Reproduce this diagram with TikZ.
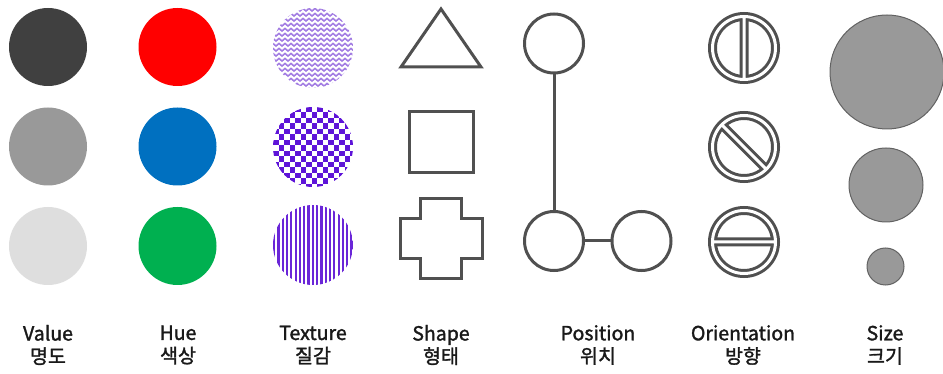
\documentclass[tikz,border=0pt]{standalone}
\usepackage{fontspec}
\setmainfont{Noto Sans CJK KR}[FakeBold=1.6]
\usetikzlibrary{positioning}

\definecolor{linegray}{HTML}{505050}
\definecolor{valdark}{HTML}{404040}
\definecolor{valmid}{HTML}{999999}
\definecolor{vallight}{HTML}{DEDEDE}
\definecolor{huered}{HTML}{FF0000}
\definecolor{hueblue}{HTML}{0070C0}
\definecolor{huegreen}{HTML}{00B050}
\definecolor{zigcol}{HTML}{A27CE2}
\definecolor{checkcol}{HTML}{5E14D8}
\definecolor{stripecol}{HTML}{6A26D8}
\definecolor{sizefill}{HTML}{999999}
\definecolor{sizeline}{HTML}{626262}

\tikzset{
dot/.style={circle,inner sep=0pt,minimum size=78pt},
ringnode/.style={circle,draw=linegray,line width=3pt,inner sep=0pt,minimum size=59pt},
shapeline/.style={draw=linegray,line width=3pt},
sizedot/.style={circle,fill=sizefill,draw=sizeline,line width=1pt,inner sep=0pt},
captext/.style={align=center,text=black!90,font=\fontsize{19.5}{23}\selectfont}
}

\newcommand{\orimark}[3]{%
\begin{scope}[shift={(#1,#2)},rotate=#3]
\draw[line width=9pt,linegray]
(0,0) circle (31.5)
(-31.5,0) -- (31.5,0);
\draw[line width=3pt,white]
(0,0) circle (31.5)
(-31.5,0) -- (31.5,0);
\end{scope}}

\begin{document}
\begin{tikzpicture}[x=1pt,y=-1pt]

\useasboundingbox (0,0) rectangle (943,374);

\node[dot,fill=valdark]
(vdark)
at (48,47)
{};

\node[dot,fill=valmid]
(vmid)
at (48,146.5)
{};

\node[dot,fill=vallight]
(vlight)
at (48,246)
{};

\node[dot,fill=huered]
(hred)
at (177.5,47)
{};

\node[dot,fill=hueblue]
(hblue)
at (177.5,146.5)
{};

\node[dot,fill=huegreen]
(hgreen)
at (177.5,246)
{};

\begin{scope}
\clip (313,48) circle (40);
\foreach \row in {0,...,17}
{
\draw[zigcol,line width=1.6pt]
(270,6+\row*5)
\foreach \k in {0,...,15} { -- ++(3,-2.5) -- ++(3,2.5) };
}
\end{scope}

\begin{scope}
\clip (313,147) circle (40);
\foreach \i in {0,...,14}
{
\pgfmathtruncatemacro{\off}{mod(\i,2)}
\foreach \j in {0,...,7}
{
\fill[checkcol]
({273+\i*5.5},{107+(2*\j+\off)*5.5})
rectangle ++(5.5,5.5);
}
}
\end{scope}

\begin{scope}
\clip (313,245) circle (40);
\foreach \k in {0,...,19}
{
\fill[stripecol]
({273+\k*4.3},205)
rectangle ++(2.2,80);
}
\end{scope}

\draw[shapeline,line join=miter]
(441,9) -- (481,67) -- (401,67) -- cycle;

\draw[shapeline]
(409,112) rectangle (473,173);

\draw[shapeline]
(420,199) -- (461,199) -- (461,219) -- (482,219) -- (482,259)
-- (461,259) -- (461,279) -- (420,279) -- (420,259) -- (400,259)
-- (400,219) -- (420,219) -- cycle;

\node[ringnode]
(ptop)
at (554,43.5)
{};

\node[ringnode]
(pleft)
at (554,241)
{};

\node[ringnode]
(pright)
at (641.5,241)
{};

\draw[shapeline]
(ptop)
--
(pleft);

\draw[shapeline]
(pleft)
--
(pright);

\orimark{744}{48}{90}
\orimark{744}{147}{-45}
\orimark{744}{242}{0}

\node[sizedot,minimum size=114pt]
(sbig)
at (887,72)
{};

\node[sizedot,minimum size=74pt]
(smid)
at (886,185)
{};

\node[sizedot,minimum size=37pt]
(ssmall)
at (885.5,266.5)
{};

\node[captext]
(value)
at (48,345)
{Value\\명도};

\node[captext]
(hue)
at (178,345)
{Hue\\색상};

\node[captext]
(texture)
at (313,345)
{Texture\\질감};

\node[captext]
(shape)
at (441,345)
{Shape\\형태};

\node[captext]
(position)
at (598,345)
{Position\\위치};

\node[captext]
(orientation)
at (743,345)
{Orientation\\방향};

\node[captext]
(size)
at (885,345)
{Size\\크기};

\end{tikzpicture}
\end{document}
